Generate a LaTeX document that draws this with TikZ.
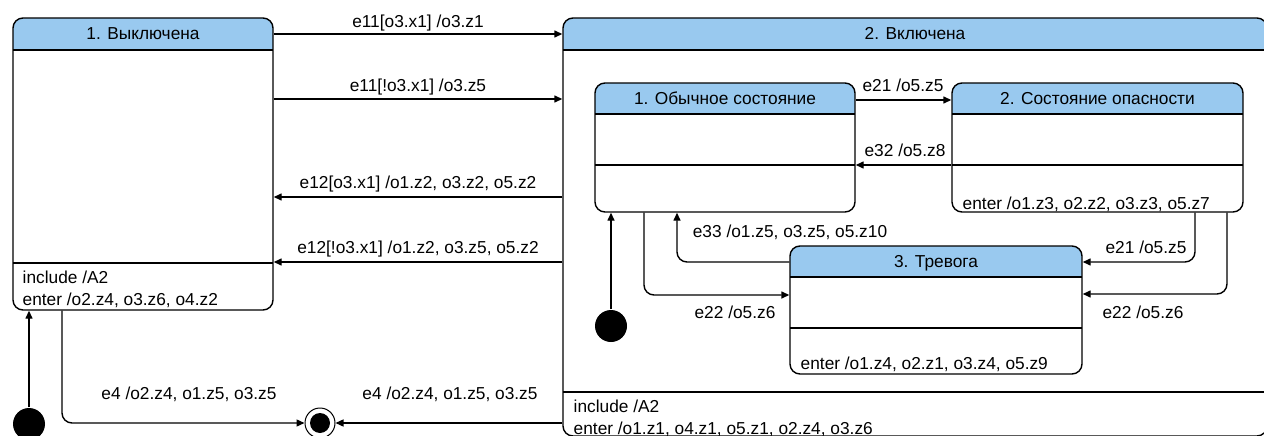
\documentclass[tikz,border=0pt]{standalone}
\usepackage{fontspec}
\setmainfont{Liberation Sans}
\usetikzlibrary{arrows.meta,positioning,calc}
\definecolor{Head}{HTML}{99C9EF}

\begin{document}
\begin{tikzpicture}[x=1pt, y=-1pt, line width=1.4pt,
  every node/.style={font=\fontsize{17.3}{20}\selectfont, inner sep=0pt, text height=12.5pt, text depth=0pt},
  statebox/.style n args={4}{draw, rounded corners=10pt, fill=white, text height=, text depth=,
    minimum width=#1, minimum height=#2,
    path picture={
      \fill[Head, sharp corners] (path picture bounding box.north west) rectangle ([yshift=-#3]path picture bounding box.north east);
      \draw[sharp corners] ([yshift=-#3]path picture bounding box.north west) -- ([yshift=-#3]path picture bounding box.north east);
      \draw[sharp corners] ([yshift=-#4]path picture bounding box.north west) -- ([yshift=-#4]path picture bounding box.north east);}},
  initial/.style={circle, fill, minimum size=32pt, text height=, text depth=},
  final/.style={circle, draw, line width=1pt, minimum size=30pt, text height=, text depth=},
  finaldot/.style={circle, fill, minimum size=20pt, text height=, text depth=},
  tr/.style={-{Triangle[length=8pt,width=7pt]}}]

  \useasboundingbox (0,0) rectangle (1264,436);

  % outer states
  \node[statebox={260pt}{292pt}{32pt}{245pt}] (s1) at (143,164) {};
  \node[statebox={704pt}{418pt}{32pt}{374pt}] (s2) at (915,227) {};
  \node (s1t) at ([yshift=-16pt]s1.north) {1. Выключена};
  \node (s2t) at ([yshift=-16pt]s2.north) {2. Включена};
  \node[anchor=west] (s1a) at (22,277) {include /A2};
  \node[anchor=west] (s1b) at (22,299) {enter /o2.z4, o3.z6, o4.z2};
  \node[anchor=west] (s2a) at (573,406) {include /A2};
  \node[anchor=west] (s2b) at (573,428) {enter /o1.z1, o4.z1, o5.z1, o2.z4, o3.z6};

  % nested states
  \node[statebox={260pt}{129pt}{31pt}{82pt}] (n1) at (725,147.5) {};
  \node[statebox={291pt}{129pt}{31pt}{82pt}] (n2) at (1097.5,147.5) {};
  \node[statebox={292pt}{128pt}{31pt}{82pt}] (n3) at (936,310) {};
  \node (n1t) at ([yshift=-15.5pt]n1.north) {1. Обычное состояние};
  \node (n2t) at ([yshift=-15.5pt]n2.north) {2. Состояние опасности};
  \node (n3t) at ([yshift=-15.5pt]n3.north) {3. Тревога};
  \node[anchor=west] (n2b) at (962,203) {enter /o1.z3, o2.z2, o3.z3, o5.z7};
  \node[anchor=west] (n3b) at (800,363) {enter /o1.z4, o2.z1, o3.z4, o5.z9};

  % pseudo states
  \node[initial] (i1) at (29,424) {};
  \node[initial] (i2) at (611,326) {};
  \node[final] (fin) at (320,423) {};
  \node[finaldot] (find) at (fin) {};

  % transitions between outer states
  \draw[tr] (s1.east |- 0,34) -- (s2.west |- 0,34);
  \draw[tr] (s1.east |- 0,99) -- (s2.west |- 0,99);
  \draw[tr] (s2.west |- 0,197) -- (s1.east |- 0,197);
  \draw[tr] (s2.west |- 0,262) -- (s1.east |- 0,262);
  \draw[tr] (i1) -- (s1.south -| i1);
  \draw[tr, rounded corners=10pt] (s1.south -| 62,0) |- (fin.west);
  \draw[tr] (s2.west |- fin) -- (fin);

  % transitions between nested states
  \draw[tr] (n1.east |- 0,100) -- (n2.west |- 0,100);
  \draw[tr] (n2.west |- 0,165) -- (n1.east |- 0,165);
  \draw[tr] (i2) -- (n1.south -| i2);
  \draw[tr, rounded corners=10pt] (n3.west |- 0,262) -| (n1.south -| 677,0);
  \draw[tr, rounded corners=10pt] (n1.south -| 644,0) |- (n3.west |- 0,295);
  \draw[tr, rounded corners=10pt] (n2.south -| 1195,0) |- (n3.east |- 0,262);
  \draw[tr, rounded corners=10pt] (n2.south -| 1227,0) |- (n3.east |- 0,294);

  % labels
  \node (l1) at (418,21) {e11[o3.x1] /o3.z1};
  \node (l2) at (418,85) {e11[!o3.x1] /o3.z5};
  \node (l3) at (418,182) {e12[o3.x1] /o1.z2, o3.z2, o5.z2};
  \node (l4) at (418,247) {e12[!o3.x1] /o1.z2, o3.z5, o5.z2};
  \node (l5) at (189,393) {e4 /o2.z4, o1.z5, o3.z5};
  \node (l6) at (450,393) {e4 /o2.z4, o1.z5, o3.z5};
  \node (l7) at (903,85) {e21 /o5.z5};
  \node (l8) at (905,150) {e32 /o5.z8};
  \node (l9) at (790,231) {e33 /o1.z5, o3.z5, o5.z10};
  \node (l10) at (735,312) {e22 /o5.z6};
  \node (l11) at (1146,247) {e21 /o5.z5};
  \node (l12) at (1143,312) {e22 /o5.z6};
\end{tikzpicture}
\end{document}
